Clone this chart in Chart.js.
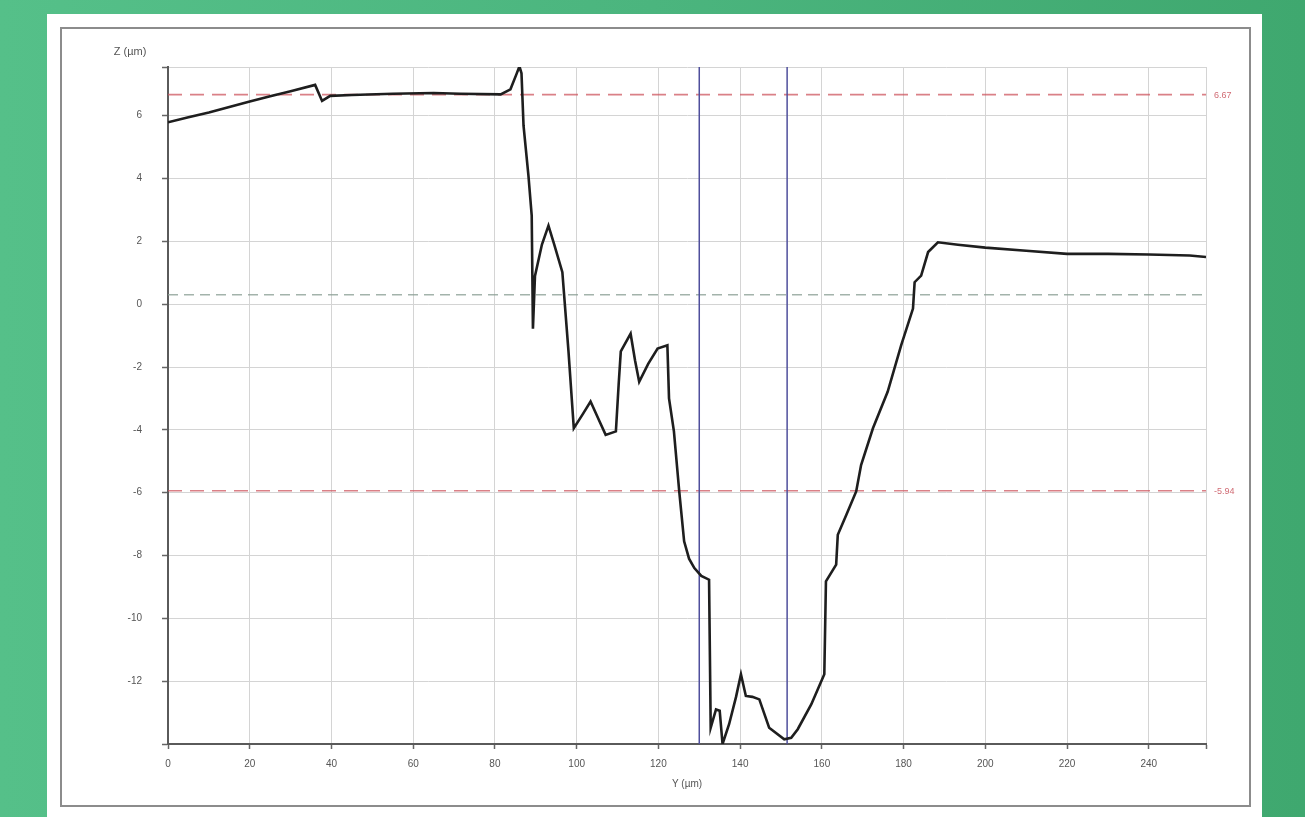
<!DOCTYPE html>
<html>
<head>
<meta charset="utf-8">
<script src="https://cdn.jsdelivr.net/npm/chart.js@4/dist/chart.umd.min.js"></script>
<style>
  html,body{margin:0;padding:0;}
  body{width:1305px;height:817px;overflow:hidden;position:relative;
    background:linear-gradient(90deg,#55c089 0%,#4bb57e 50%,#3fa86f 100%);
    font-family:"Liberation Sans",Arial,sans-serif;}
  #panel{position:absolute;left:47px;top:14px;width:1215px;height:820px;background:#fff;}
  #frame{position:absolute;left:60px;top:27px;width:1187px;height:776px;border:2px solid #8c8c8c;background:#fff;}
  #c{position:absolute;left:0;top:0;}
</style>
</head>
<body>
<div id="panel"></div>
<div id="frame"></div>
<canvas id="c" width="1305" height="817"></canvas>
<script>
// ---- data ----
const profileY = [0,5,10,15,20,25,30,36,37.7,39.7,45,55,65,71.5,81.4,83.8,85.2,86.0,86.5,87.0,88.2,89.0,89.3,89.8,91.5,93.1,94.5,96.5,98,99.3,101.5,103.4,105.5,107.1,109.6,110.3,110.8,113.2,114.3,115.3,117.5,119.8,122.2,122.6,123.8,125.1,126.3,127.5,128.8,130.5,132.4,132.8,134.1,135.0,135.7,137.3,139,140.2,141.4,143,144.7,147.1,150.8,152.5,154.1,157.4,160.6,161.0,163.5,163.9,166,168.4,169.6,172.5,176.1,179.4,182.3,182.7,184.3,186.0,188.4,193.3,200,210,220,230,240,250,254];
const profileZ = [5.79,5.95,6.1,6.28,6.45,6.62,6.78,6.98,6.47,6.63,6.66,6.70,6.72,6.70,6.68,6.84,7.3,7.57,7.35,5.68,4.09,2.82,-0.78,0.9,1.9,2.5,1.9,1.02,-1.5,-3.95,-3.5,-3.1,-3.7,-4.16,-4.05,-2.5,-1.5,-0.94,-1.8,-2.47,-1.9,-1.41,-1.31,-3.0,-4.05,-5.96,-7.55,-8.1,-8.4,-8.65,-8.77,-13.48,-12.9,-12.94,-14.0,-13.37,-12.5,-11.78,-12.47,-12.5,-12.58,-13.48,-13.85,-13.8,-13.53,-12.74,-11.78,-8.82,-8.29,-7.34,-6.7,-5.96,-5.12,-3.95,-2.79,-1.31,-0.14,0.7,0.91,1.66,1.97,1.89,1.80,1.70,1.60,1.60,1.58,1.55,1.50];
const limitLevels = [6.67, -5.94];
const limitLabels = ["6.67", "-5.94"];
const refLevel = [0.3];
const cursorPositions = [130, 151.5];
const xTicks = [0,20,40,60,80,100,120,140,160,180,200,220,240];
const yTicks = [-12,-10,-8,-6,-4,-2,0,2,4,6];
const xRange = [0, 254];
const yRange = [-14, 7.55];
const xTitle = "Y (µm)";
const yTitle = "Z (µm)";

// ---- datasets ----
const datasets = [];
limitLevels.forEach(v => datasets.push({
  data: xRange.map(x => ({x, y: v})),
  borderColor: 'rgba(205,85,95,0.75)', borderWidth: 1.6, borderDash: [14, 8],
  pointRadius: 0, showLine: true, order: 3
}));
refLevel.forEach(v => datasets.push({
  data: xRange.map(x => ({x, y: v})),
  borderColor: 'rgba(140,160,150,0.8)', borderWidth: 1.4, borderDash: [10, 6],
  pointRadius: 0, showLine: true, order: 3
}));
cursorPositions.forEach(p => datasets.push({
  data: yRange.map(y => ({x: p, y})),
  borderColor: '#4f4f9c', borderWidth: 1.5,
  pointRadius: 0, showLine: true, order: 2
}));
datasets.push({
  data: profileY.map((x, i) => ({x, y: profileZ[i]})),
  borderColor: '#1e1e1e', borderWidth: 2.6, tension: 0,
  pointRadius: 0, showLine: true, order: 1
});

const textPlugin = {
  id: 'extraText',
  afterDraw(chart) {
    const ctx = chart.ctx, ys = chart.scales.y, a = chart.chartArea;
    ctx.save();
    ctx.font = '9px "Liberation Sans", Arial, sans-serif';
    ctx.fillStyle = 'rgba(200,80,90,0.85)';
    ctx.textAlign = 'left'; ctx.textBaseline = 'middle';
    limitLevels.forEach((v, i) => ctx.fillText(limitLabels[i], a.right + 8, ys.getPixelForValue(v) + 1));
    ctx.font = '11px "Liberation Sans", Arial, sans-serif';
    ctx.fillStyle = '#555';
    ctx.textAlign = 'center';
    ctx.fillText(yTitle, a.left - 38, a.top - 15);
    ctx.restore();
  }
};

new Chart(document.getElementById('c'), {
  type: 'scatter',
  data: { datasets },
  options: {
    responsive: false, animation: false,
    layout: { padding: { left: 0, right: 99, top: 67, bottom: 25 } },
    plugins: { legend: { display: false }, tooltip: { enabled: false } },
    scales: {
      x: {
        type: 'linear', min: xRange[0], max: xRange[1],
        afterFit(s) { s.height = 48; },
        afterBuildTicks(s) { s.ticks = xTicks.concat([xRange[1]]).map(v => ({value: v})); },
        ticks: { padding: 9, color: '#555', font: { size: 10, family: '"Liberation Sans", Arial' },
          maxRotation: 0, autoSkip: false,
          callback: v => xTicks.includes(v) ? String(v) : '' },
        grid: { color: '#d4d4d4', lineWidth: 1, tickLength: 5, tickColor: '#666', tickWidth: 1.5 },
        border: { color: '#5a5a5a', width: 2 },
        title: { display: true, text: xTitle, color: '#555', padding: { top: 0, bottom: 2 },
          font: { size: 10, family: '"Liberation Sans", Arial' } }
      },
      y: {
        type: 'linear', min: yRange[0], max: yRange[1],
        afterFit(s) { s.width = 168; },
        afterBuildTicks(s) { s.ticks = [yRange[0]].concat(yTicks, [yRange[1]]).map(v => ({value: v})); },
        ticks: { padding: 20, color: '#555', font: { size: 10, family: '"Liberation Sans", Arial' },
          autoSkip: false,
          callback: v => yTicks.includes(v) ? String(v) : '' },
        grid: { color: '#d4d4d4', lineWidth: 1, tickLength: 6, tickColor: '#666', tickWidth: 1.5 },
        border: { color: '#5a5a5a', width: 2 }
      }
    }
  },
  plugins: [textPlugin]
});
</script>
</body>
</html>
